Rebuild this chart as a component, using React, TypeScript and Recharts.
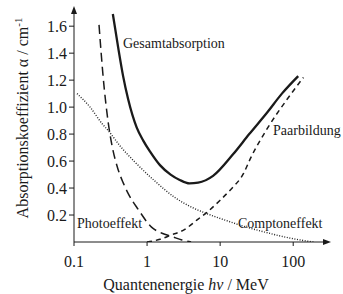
import { LineChart, Line, XAxis, YAxis } from "recharts";

// Energy (MeV) and absorption coefficient (1/cm)
const gesamtE = [0.34, 0.4, 0.47, 0.55, 0.72, 0.89, 1.1, 1.5, 2.1, 2.8, 3.8, 5, 8, 15, 25, 44, 70, 117];
const gesamtA = [1.69, 1.45, 1.23, 1.06, 0.85, 0.75, 0.67, 0.57, 0.5, 0.46, 0.435, 0.44, 0.49, 0.65, 0.8, 0.96, 1.1, 1.23];

const photoE = [0.22, 0.25, 0.295, 0.33, 0.4, 0.47, 0.55, 0.76, 1.15, 1.6, 2.2, 3, 4];
const photoA = [1.61, 1.23, 0.88, 0.72, 0.54, 0.44, 0.36, 0.24, 0.11, 0.065, 0.04, 0.015, 0];

const comptonE = [0.11, 0.166, 0.24, 0.3, 0.43, 0.69, 1.29, 2.4, 4, 6.6, 12, 23, 40, 66, 110, 190];
const comptonA = [1.1, 1.0, 0.88, 0.82, 0.71, 0.59, 0.45, 0.33, 0.26, 0.21, 0.16, 0.11, 0.075, 0.045, 0.02, 0];

const paarE = [1.0, 1.5, 2.1, 3.2, 5, 6.6, 10, 14, 21, 26, 44, 83, 138];
const paarA = [0, 0.02, 0.05, 0.09, 0.17, 0.22, 0.31, 0.39, 0.51, 0.62, 0.84, 1.06, 1.22];

const xTicks = [0.1, 1, 10, 100];
const yTicks = [0.2, 0.4, 0.6, 0.8, 1.0, 1.2, 1.4, 1.6];

const toRows = (e: number[], a: number[]) => e.map((v, i) => ({ e: v, a: a[i] }));

const FONT = '"Liberation Serif", "DejaVu Serif", serif';
const INK = "#1a1a1a";

const YLabel = () => (
  <text
    transform="rotate(-90)"
    x={-118}
    y={28}
    textAnchor="middle"
    fontFamily={FONT}
    fontSize={16}
    fill={INK}
  >
    Absorptionskoeffizient α / cm
    <tspan dy={-6} fontSize={11}>-1</tspan>
  </text>
);

const XLabel = () => (
  <text x={186} y={290} textAnchor="middle" fontFamily={FONT} fontSize={16} fill={INK}>
    Quantenenergie <tspan fontStyle="italic">hν</tspan> / MeV
  </text>
);

export default function App() {
  return (
    <div style={{ position: "absolute", left: 0, top: 0, width: 343, height: 294, background: "#fff" }}>
      <LineChart width={343} height={294} margin={{ top: 10, right: 16, left: 0, bottom: 0 }}>
        <XAxis
          dataKey="e"
          type="number"
          scale="log"
          domain={[0.1, 290]}
          allowDataOverflow
          ticks={xTicks}
          tickFormatter={(v: number) => String(v)}
          height={52}
          tickSize={4}
          tickMargin={10}
          stroke={INK}
          tick={{ fill: INK, fontSize: 16, fontFamily: FONT }}
          label={<XLabel />}
        />
        <YAxis
          type="number"
          domain={[0, 1.72]}
          allowDataOverflow
          ticks={yTicks}
          tickFormatter={(v: number) => v.toFixed(1)}
          width={74}
          tickSize={5}
          tickMargin={2}
          stroke={INK}
          tick={{ fill: INK, fontSize: 16, fontFamily: FONT }}
          label={<YLabel />}
        />
        <Line data={toRows(comptonE, comptonA)} dataKey="a" type="monotone" stroke="#222" strokeWidth={1.4}
          strokeDasharray="1 1.6" dot={false} isAnimationActive={false} />
        <Line data={toRows(photoE, photoA)} dataKey="a" type="monotone" stroke={INK} strokeWidth={1.5}
          strokeDasharray="9 5" dot={false} isAnimationActive={false} />
        <Line data={toRows(paarE, paarA)} dataKey="a" type="monotone" stroke={INK} strokeWidth={1.5}
          strokeDasharray="5 4" dot={false} isAnimationActive={false} />
        <Line data={toRows(gesamtE, gesamtA)} dataKey="a" type="monotone" stroke={INK} strokeWidth={2.3}
          dot={false} isAnimationActive={false} />
      </LineChart>
      <svg width={343} height={294} style={{ position: "absolute", left: 0, top: 0, pointerEvents: "none" }}>
        <polygon points="74,6 71,14 77,14" fill={INK} />
        <polygon points="331,242 323,239 323,245" fill={INK} />
        <g fontFamily={FONT} fontSize={14} fill={INK}>
          <text x={123} y={48}>Gesamtabsorption</text>
          <text x={273} y={135}>Paarbildung</text>
          <text x={77} y={228}>Photoeffekt</text>
          <text x={238} y={228}>Comptoneffekt</text>
        </g>
      </svg>
    </div>
  );
}
